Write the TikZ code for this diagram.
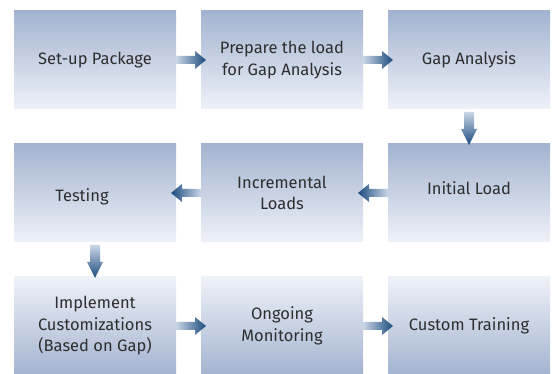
\documentclass[tikz,border=0pt]{standalone}
\usepackage{fontspec}
\setmainfont{Fira Sans}
\usetikzlibrary{calc,positioning}

\definecolor{boxdark}{HTML}{A3B3D0}
\definecolor{boxlight}{HTML}{EEF1F8}
\definecolor{arrdark}{HTML}{1B4B7D}
\definecolor{arrlight}{HTML}{CAD6E7}
\definecolor{txtgray}{HTML}{2E2E2E}

\begin{document}
\begin{tikzpicture}[x=1pt, y=1pt,
  every node/.style={font=\fontsize{16.5}{21.5}\selectfont, text=txtgray},
  phase/.style={minimum width=162pt, minimum height=98pt, inner sep=0pt,
    outer sep=0pt, align=center, top color=boxdark, bottom color=boxlight},
  phase up/.style={phase, top color=boxlight, bottom color=boxdark},
  arrow right/.style={left color=arrlight, right color=arrdark},
  arrow left/.style={left color=arrdark, right color=arrlight},
  arrow down/.style={top color=arrlight, bottom color=arrdark}]

  \useasboundingbox (0,0) rectangle (554,374);

  %--- Zeile 1
  \node[phase] (setup) at (95,314) {Set-up Package};
  \node[phase, right=25pt of setup] (prep) {Prepare the load\\for Gap Analysis};
  \node[phase, right=25pt of prep] (gap) {Gap Analysis};

  %--- Zeile 2 (von rechts nach links)
  \node[phase, below=35pt of gap] (init) {\raisebox{5pt}[\height][\depth]{Initial Load}};
  \node[phase, left=25pt of init] (incr) {Incremental\\Loads};
  \node[phase, left=25pt of incr] (test) {\raisebox{-4pt}[\height][\depth]{Testing}\hspace*{26pt}};

  %--- Zeile 3
  \node[phase up, below=35pt of test] (impl) {Implement\\Customizations\\(Based on Gap)};
  \node[phase up, right=25pt of impl] (monit) {Ongoing\\Monitoring};
  \node[phase up, right=25pt of monit] (train) {Custom Training};

  %--- Pfeile nach rechts
  \foreach \a/\b in {setup/prep, prep/gap, impl/monit, monit/train}
    \shade[arrow right] ($(\a.east)+(0,4)$) -- ($(\a.east)+(19,4)$) -- ($(\a.east)+(19,9)$)
      -- ($(\b.west)+(5,0)$) -- ($(\a.east)+(19,-9)$) -- ($(\a.east)+(19,-4)$)
      -- ($(\a.east)+(0,-4)$) -- cycle;

  %--- Pfeile nach links
  \foreach \a/\b in {init/incr, incr/test}
    \shade[arrow left] ($(\a.west)+(0,4)$) -- ($(\a.west)+(-19,4)$) -- ($(\a.west)+(-19,9)$)
      -- ($(\b.east)+(-5,0)$) -- ($(\a.west)+(-19,-9)$) -- ($(\a.west)+(-19,-4)$)
      -- ($(\a.west)+(0,-4)$) -- cycle;

  %--- Pfeile nach unten
  \foreach \a/\b in {gap/init, test/impl}
    \shade[arrow down] ($(\a.south)+(-5,-3)$) -- ($(\a.south)+(-5,-20)$) -- ($(\a.south)+(-8,-20)$)
      -- ($(\b.north)+(0,-1)$) -- ($(\a.south)+(8,-20)$) -- ($(\a.south)+(5,-20)$)
      -- ($(\a.south)+(5,-3)$) -- cycle;
\end{tikzpicture}
\end{document}
